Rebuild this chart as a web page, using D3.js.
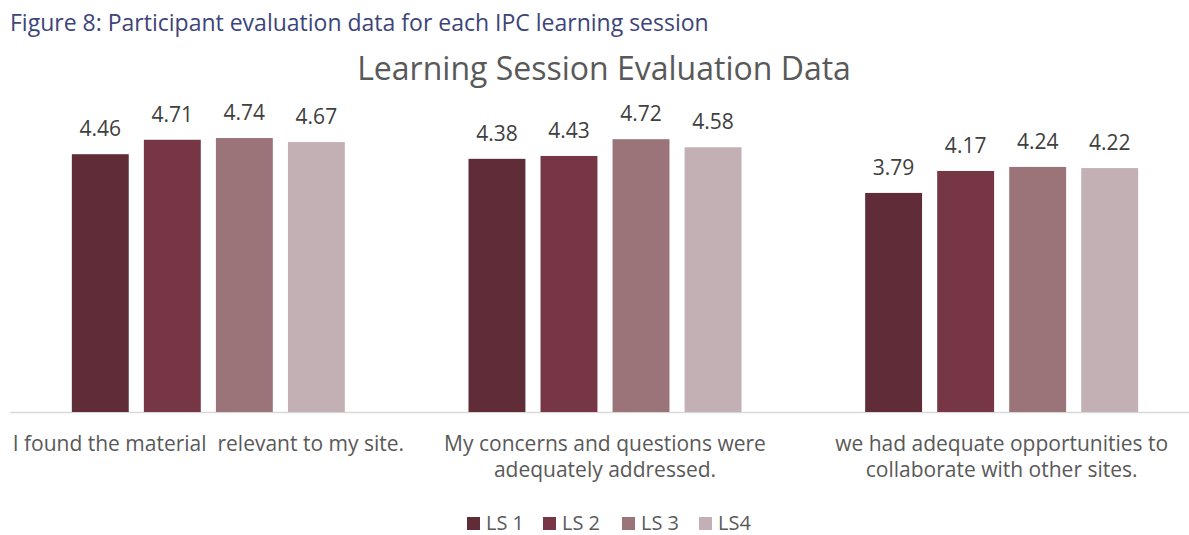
<!DOCTYPE html>
<html>
<head>
<meta charset="utf-8">
<script src="https://cdn.jsdelivr.net/npm/d3@7"></script>
<style>
  body { margin: 0; background: white; }
  svg { display: block; font-family: "Open Sans", "Noto Sans", sans-serif; }
</style>
</head>
<body>
<script>
// Data
const categories = [
    ["I found the material  relevant to my site."],
    ["My concerns and questions were", "adequately addressed."],
    ["we had adequate opportunities to", "collaborate with other sites."]
];
const seriesNames = ["LS 1", "LS 2", "LS 3", "LS4"];
const ls1 = [4.46, 4.38, 3.79];
const ls2 = [4.71, 4.43, 4.17];
const ls3 = [4.74, 4.72, 4.24];
const ls4 = [4.67, 4.58, 4.22];
const seriesValues = [ls1, ls2, ls3, ls4];
const colors = ["#5f2c38", "#763646", "#9a7479", "#c3b0b4"];

const outerWidth = 1189, outerHeight = 535;
const baseline = 412, plotTop = 123;

const svg = d3.select("body").append("svg")
    .attr("width", outerWidth)
    .attr("height", outerHeight);

// Caption and title
svg.append("text")
    .text("Figure 8: Participant evaluation data for each IPC learning session")
    .attr("x", 10).attr("y", 31)
    .style("font-size", "23px")
    .style("fill", "#3d4578");

svg.append("text")
    .text("Learning Session Evaluation Data")
    .attr("x", 604).attr("y", 80)
    .style("text-anchor", "middle")
    .style("font-size", "32px")
    .style("fill", "#595959");

// Scales
const x0 = d3.scaleBand()
    .domain(d3.range(categories.length))
    .range([10, 1200]);
const x1 = d3.scaleBand()
    .domain(d3.range(seriesNames.length))
    .range([0, 273])
    .paddingInner(0.21);
const y = d3.scaleLinear()
    .domain([0, 5])
    .range([baseline, plotTop]);

// Axis line
svg.append("line")
    .attr("x1", 10).attr("x2", 1200)
    .attr("y1", baseline + 0.5).attr("y2", baseline + 0.5)
    .style("stroke", "#d9d9d9")
    .style("stroke-width", 1.5);

// Bars
const groups = svg.selectAll(".group")
    .data(categories)
    .join("g")
    .attr("class", "group")
    .attr("transform", (d, i) => `translate(${x0(i) + x0.bandwidth() / 2 - 136.5}, 0)`);

groups.each(function(cat, ci) {
    const g = d3.select(this);
    seriesValues.forEach((vals, si) => {
        g.append("rect")
            .attr("x", x1(si))
            .attr("y", y(vals[ci]))
            .attr("width", x1.bandwidth())
            .attr("height", baseline - y(vals[ci]))
            .style("fill", colors[si]);
        g.append("text")
            .text(vals[ci].toFixed(2))
            .attr("x", x1(si) + x1.bandwidth() / 2)
            .attr("y", y(vals[ci]) - 18)
            .style("text-anchor", "middle")
            .style("font-size", "21px")
            .style("fill", "#404040");
    });
});

// Category labels
groups.each(function(cat, ci) {
    const t = d3.select(this).append("text")
        .attr("y", 451)
        .style("text-anchor", "middle")
        .style("white-space", "pre")
        .style("font-size", "21px")
        .style("fill", "#595959");
    cat.forEach((line, li) => {
        t.append("tspan")
            .text(line)
            .attr("x", 136.5)
            .attr("dy", li === 0 ? 0 : 26);
    });
});

// Legend
const legendX = [467, 543, 622, 699];
const legend = svg.selectAll(".legend")
    .data(seriesNames)
    .join("g")
    .attr("class", "legend")
    .attr("transform", (d, i) => `translate(${legendX[i]}, 517)`);

legend.append("rect")
    .attr("width", 13).attr("height", 13)
    .style("fill", (d, i) => colors[i]);

legend.append("text")
    .text(d => d)
    .attr("x", 19).attr("y", 13)
    .style("font-size", "20px")
    .style("fill", "#595959");
</script>
</body>
</html>
